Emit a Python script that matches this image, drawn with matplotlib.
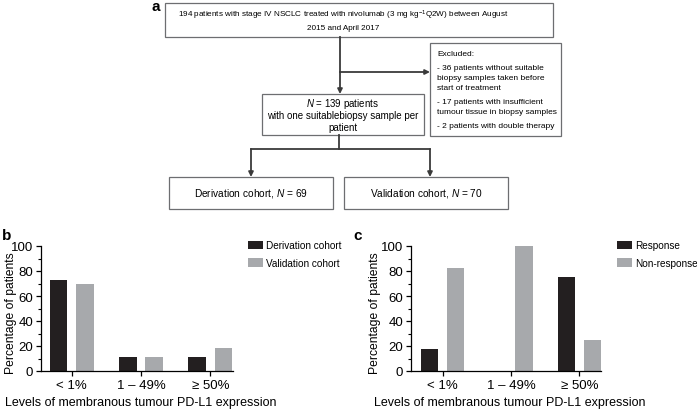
import matplotlib.pyplot as plt
from matplotlib.patches import Rectangle
from matplotlib.ticker import MultipleLocator

plt.rcParams['font.family'] = ['Liberation Sans', 'DejaVu Sans']
plt.rcParams['mathtext.fontset'] = 'custom'
plt.rcParams['mathtext.rm'] = 'Liberation Sans'
plt.rcParams['mathtext.it'] = 'Liberation Sans:italic'

# daten
levels = ['< 1%', '1 \u2013 49%', '\u2265 50%']
derivation = [72.5, 11.6, 11.6]
validation = [70.0, 11.4, 18.6]
response = [17.8, 0.0, 75.0]
non_response = [82.2, 100.0, 25.0]

schwarz = '#231f20'
grau = '#a7a9ac'
linie = '#3a3a3a'
rand = '#6d6e71'

W, H = 697, 410
fig = plt.figure(figsize=(W / 100, H / 100), dpi=100)

# flussdiagramm in pixel-koordinaten
fa = fig.add_axes([0, 0, 1, 1])
fa.set_xlim(0, W)
fa.set_ylim(H, 0)
fa.axis('off')


def box(x0, y0, x1, y1):
    fa.add_patch(Rectangle((x0, y0), x1 - x0, y1 - y0, fill=False,
                           edgecolor=rand, lw=0.9))


def pfeil(x0, y0, x1, y1):
    fa.annotate('', xy=(x1, y1), xytext=(x0, y0),
                arrowprops=dict(arrowstyle='-|>', color=linie, lw=1.3,
                                shrinkA=0, shrinkB=0, mutation_scale=7))


fs = 5.9
box(165, 4, 553, 38)
fa.text(343, 15, '194 patients with stage IV NSCLC treated with nivolumab '
        '(3 mg kg$^{-1}$Q2W) between August', ha='center', va='center', fontsize=fs)
fa.text(343, 28, '2015 and April 2017', ha='center', va='center', fontsize=fs)

fa.plot([340, 340], [38, 73], color=linie, lw=1.3)
pfeil(340, 73, 340, 95)
pfeil(340, 73, 430, 73)

box(430, 44, 561, 137)
excl = ['Excluded:', '- 36 patients without suitable', 'biopsy samples taken before',
        'start of treatment', '- 17 patients with insufficient',
        'tumour tissue in biopsy samples', '- 2 patients with double therapy']
ys = [55, 68, 79, 89, 103, 113, 126]
for t, y in zip(excl, ys):
    fa.text(437, y, t, ha='left', va='center', fontsize=6.0)

fm = 7.0
box(262, 95, 424, 136)
fa.text(343, 104, '$N$ = 139 patients', ha='center', va='center', fontsize=fm)
fa.text(343, 116, 'with one suitablebiopsy sample per', ha='center', va='center', fontsize=fm)
fa.text(343, 128, 'patient', ha='center', va='center', fontsize=fm)

fa.plot([339, 339], [136, 150], color=linie, lw=1.3)
fa.plot([251, 430], [150, 150], color=linie, lw=1.3)
pfeil(251, 150, 251, 178)
pfeil(430, 150, 430, 178)

box(169, 178, 333, 210)
box(344, 178, 508, 210)
fa.text(251, 194, 'Derivation cohort, $N$ = 69', ha='center', va='center', fontsize=7.3)
fa.text(426, 194, 'Validation cohort, $N$ = 70', ha='center', va='center', fontsize=7.3)

fa.text(151, 0, 'a', fontsize=11, fontweight='bold', ha='left', va='top')


def balken(links, rechts, serie1, serie2, namen, buchst, leg_x):
    ax = fig.add_axes([links / W, (H - 372) / H, (rechts - links) / W, 125 / H])
    x = range(len(levels))
    off = 0.19
    bw = 0.255
    ax.bar([i - off for i in x], serie1, bw, color=schwarz, label=namen[0])
    ax.bar([i + off for i in x], serie2, bw, color=grau, label=namen[1])
    ax.set_ylim(0, 100)
    ax.set_xlim(-(links_off[buchst]), 2 + rechts_off[buchst])
    ax.set_xticks(list(x))
    ax.set_xticklabels(levels, fontsize=9.5)
    ax.yaxis.set_major_locator(MultipleLocator(20))
    ax.yaxis.set_minor_locator(MultipleLocator(10))
    ax.tick_params(axis='y', labelsize=9.5, length=3.5, width=0.9, pad=2)
    ax.tick_params(axis='y', which='minor', length=2, width=0.8)
    ax.tick_params(axis='x', length=3.5, width=0.9, pad=2)
    for s in ['top', 'right']:
        ax.spines[s].set_visible(False)
    for s in ['left', 'bottom']:
        ax.spines[s].set_linewidth(0.9)
    breite = rechts - links
    ax.set_ylabel('Percentage of patients', fontsize=8.7)
    ax.yaxis.set_label_coords(-(links - lab_x[buchst]) / breite, 0.47)
    ax.set_xlabel('Levels of membranous tumour PD-L1 expression', fontsize=9)
    ax.xaxis.set_label_coords((xlab_x[buchst] - links) / breite, -0.198)
    ax.legend(loc='upper left', bbox_to_anchor=((leg_x - links) / breite, 1.045),
              frameon=False, fontsize=7.2, handlelength=1.5, handleheight=0.9,
              handletextpad=0.35, labelspacing=0.75, borderaxespad=0, borderpad=0)
    return ax


links_off = {'b': 0.445, 'c': 0.46}
rechts_off = {'b': 0.328, 'c': 0.314}
lab_x = {'b': 17, 'c': 381}
xlab_x = {'b': 141, 'c': 510}

axb = balken(41, 233, derivation, validation, ['Derivation cohort', 'Validation cohort'], 'b', 248)
axc = balken(411, 601, response, non_response, ['Response', 'Non-response'], 'c', 617)

fig.text(2 / W, 1 - 229 / H, 'b', fontsize=11, fontweight='bold', va='top')
fig.text(353 / W, 1 - 229 / H, 'c', fontsize=11, fontweight='bold', va='top')

fig.savefig('out.png', dpi=100)
